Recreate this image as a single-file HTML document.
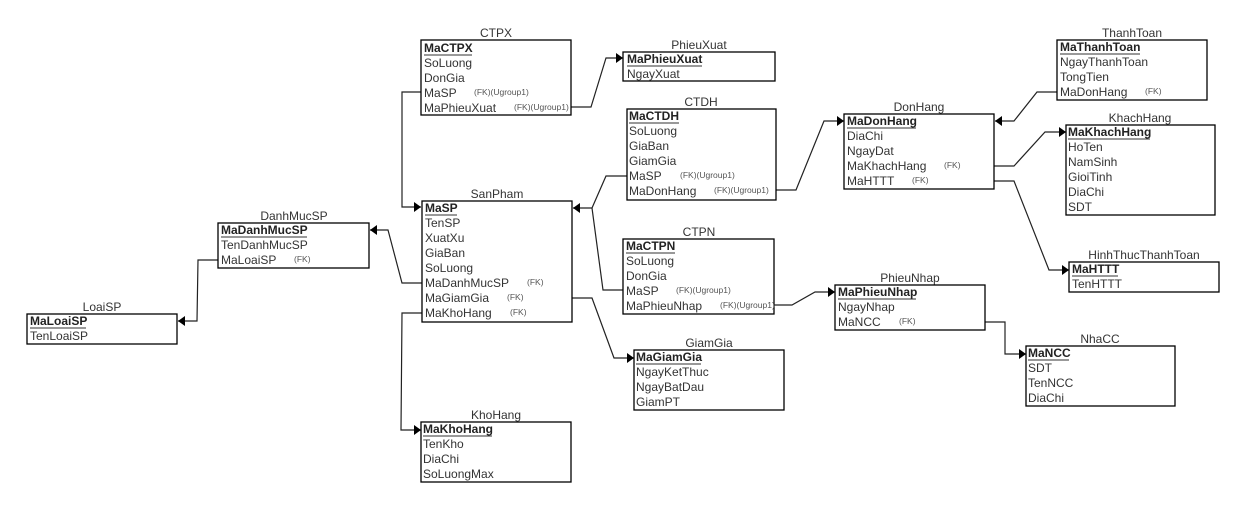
<!DOCTYPE html>
<html><head><meta charset="utf-8"><style>
html,body{margin:0;padding:0;background:#fff;}
svg{display:block;}
text{font-family:"Liberation Sans",Arial,sans-serif;font-size:12px;fill:#333;}
text.t{fill:#333;}
text.pk{font-weight:bold;fill:#222;}
text.fk{font-size:8.5px;fill:#555;}
rect{fill:#fff;stroke:#000;stroke-width:1.3;}
line.u{stroke:#333;stroke-width:1;}
polyline{fill:none;stroke:#222;stroke-width:1.2;}
</style></head><body>
<svg width="1245" height="508" viewBox="0 0 1245 508" xmlns="http://www.w3.org/2000/svg">
<defs>
<marker id="a" markerWidth="8" markerHeight="12" refX="7" refY="6" orient="auto" markerUnits="userSpaceOnUse">
<path d="M0,1 L7,6 L0,11 Z" fill="#000"/>
</marker>
</defs>

<!-- connectors -->
<polyline points="421,92 402,92 402,207 421,207" marker-end="url(#a)"/>
<polyline points="571,107 591,107 606,58 623,58" marker-end="url(#a)"/>
<polyline points="627,176 606,176 592,208 573,208" marker-end="url(#a)"/>
<polyline points="623,290 603,290 592,208"/>
<polyline points="776,190 796,190 824,121 844,121" marker-end="url(#a)"/>
<polyline points="774,305 792,305 815,292 835,292" marker-end="url(#a)"/>
<polyline points="1057,92 1037,92 1014,121 995,121" marker-end="url(#a)"/>
<polyline points="994,166 1014,166 1045,132 1066,132" marker-end="url(#a)"/>
<polyline points="994,181 1014,181 1049,270 1069,270" marker-end="url(#a)"/>
<polyline points="985,322 1005,322 1005,354 1026,354" marker-end="url(#a)"/>
<polyline points="422,283 402,283 388,230 370,230" marker-end="url(#a)"/>
<polyline points="218,260 198,260 197,321 178,321" marker-end="url(#a)"/>
<polyline points="572,298 592,298 614,358 634,358" marker-end="url(#a)"/>
<polyline points="422,313 402,313 401,430 421,430" marker-end="url(#a)"/>

<!-- CTPX -->
<text x="496" y="37" text-anchor="middle">CTPX</text>
<rect x="421" y="40" width="150" height="75"/>
<text class="pk" x="424" y="52">MaCTPX</text><line class="u" x1="424" y1="55" x2="472" y2="55"/>
<text x="424" y="67">SoLuong</text>
<text x="424" y="82">DonGia</text>
<text x="424" y="97">MaSP</text><text class="fk" x="474" y="95">(FK)(Ugroup1)</text>
<text x="424" y="112">MaPhieuXuat</text><text class="fk" x="514" y="110">(FK)(Ugroup1)</text>

<!-- PhieuXuat -->
<text x="699" y="49" text-anchor="middle">PhieuXuat</text>
<rect x="623" y="52" width="152" height="29"/>
<text class="pk" x="627" y="63">MaPhieuXuat</text><line class="u" x1="627" y1="66" x2="702" y2="66"/>
<text x="627" y="78">NgayXuat</text>

<!-- CTDH -->
<text x="701" y="106" text-anchor="middle">CTDH</text>
<rect x="627" y="109" width="149" height="91"/>
<text class="pk" x="629" y="120">MaCTDH</text><line class="u" x1="629" y1="123" x2="679" y2="123"/>
<text x="629" y="135">SoLuong</text>
<text x="629" y="150">GiaBan</text>
<text x="629" y="165">GiamGia</text>
<text x="629" y="180">MaSP</text><text class="fk" x="680" y="178">(FK)(Ugroup1)</text>
<text x="629" y="195">MaDonHang</text><text class="fk" x="714" y="193">(FK)(Ugroup1)</text>

<!-- SanPham -->
<text x="497" y="198" text-anchor="middle">SanPham</text>
<rect x="422" y="201" width="150" height="121"/>
<text class="pk" x="425" y="212">MaSP</text><line class="u" x1="425" y1="215" x2="457" y2="215"/>
<text x="425" y="227">TenSP</text>
<text x="425" y="242">XuatXu</text>
<text x="425" y="257">GiaBan</text>
<text x="425" y="272">SoLuong</text>
<text x="425" y="287">MaDanhMucSP</text><text class="fk" x="527" y="285">(FK)</text>
<text x="425" y="302">MaGiamGia</text><text class="fk" x="507" y="300">(FK)</text>
<text x="425" y="317">MaKhoHang</text><text class="fk" x="510" y="315">(FK)</text>

<!-- CTPN -->
<text x="699" y="236" text-anchor="middle">CTPN</text>
<rect x="623" y="239" width="151" height="75"/>
<text class="pk" x="626" y="250">MaCTPN</text><line class="u" x1="626" y1="253" x2="675" y2="253"/>
<text x="626" y="265">SoLuong</text>
<text x="626" y="280">DonGia</text>
<text x="626" y="295">MaSP</text><text class="fk" x="676" y="293">(FK)(Ugroup1)</text>
<text x="626" y="310">MaPhieuNhap</text><text class="fk" x="720" y="308">(FK)(Ugroup1)</text>

<!-- DonHang -->
<text x="919" y="111" text-anchor="middle">DonHang</text>
<rect x="844" y="114" width="150" height="75"/>
<text class="pk" x="847" y="125">MaDonHang</text><line class="u" x1="847" y1="128" x2="916" y2="128"/>
<text x="847" y="140">DiaChi</text>
<text x="847" y="155">NgayDat</text>
<text x="847" y="170">MaKhachHang</text><text class="fk" x="944" y="168">(FK)</text>
<text x="847" y="185">MaHTTT</text><text class="fk" x="912" y="183">(FK)</text>

<!-- ThanhToan -->
<text x="1132" y="37" text-anchor="middle">ThanhToan</text>
<rect x="1057" y="40" width="150" height="60"/>
<text class="pk" x="1060" y="51">MaThanhToan</text><line class="u" x1="1060" y1="54" x2="1140" y2="54"/>
<text x="1060" y="66">NgayThanhToan</text>
<text x="1060" y="81">TongTien</text>
<text x="1060" y="96">MaDonHang</text><text class="fk" x="1145" y="94">(FK)</text>

<!-- KhachHang -->
<text x="1140" y="122" text-anchor="middle">KhachHang</text>
<rect x="1066" y="125" width="149" height="90"/>
<text class="pk" x="1068" y="136">MaKhachHang</text><line class="u" x1="1068" y1="139" x2="1150" y2="139"/>
<text x="1068" y="151">HoTen</text>
<text x="1068" y="166">NamSinh</text>
<text x="1068" y="181">GioiTinh</text>
<text x="1068" y="196">DiaChi</text>
<text x="1068" y="211">SDT</text>

<!-- HinhThucThanhToan -->
<text x="1144" y="259" text-anchor="middle">HinhThucThanhToan</text>
<rect x="1069" y="262" width="150" height="30"/>
<text class="pk" x="1072" y="273">MaHTTT</text><line class="u" x1="1072" y1="276" x2="1118" y2="276"/>
<text x="1072" y="288">TenHTTT</text>

<!-- PhieuNhap -->
<text x="910" y="282" text-anchor="middle">PhieuNhap</text>
<rect x="835" y="285" width="150" height="45"/>
<text class="pk" x="838" y="296">MaPhieuNhap</text><line class="u" x1="838" y1="299" x2="916" y2="299"/>
<text x="838" y="311">NgayNhap</text>
<text x="838" y="326">MaNCC</text><text class="fk" x="899" y="324">(FK)</text>

<!-- NhaCC -->
<text x="1100" y="343" text-anchor="middle">NhaCC</text>
<rect x="1026" y="346" width="149" height="60"/>
<text class="pk" x="1028" y="357">MaNCC</text><line class="u" x1="1028" y1="360" x2="1069" y2="360"/>
<text x="1028" y="372">SDT</text>
<text x="1028" y="387">TenNCC</text>
<text x="1028" y="402">DiaChi</text>

<!-- DanhMucSP -->
<text x="294" y="220" text-anchor="middle">DanhMucSP</text>
<rect x="218" y="223" width="151" height="45"/>
<text class="pk" x="221" y="234">MaDanhMucSP</text><line class="u" x1="221" y1="237" x2="307" y2="237"/>
<text x="221" y="249">TenDanhMucSP</text>
<text x="221" y="264">MaLoaiSP</text><text class="fk" x="294" y="262">(FK)</text>

<!-- LoaiSP -->
<text x="102" y="311" text-anchor="middle">LoaiSP</text>
<rect x="27" y="314" width="150" height="30"/>
<text class="pk" x="30" y="325">MaLoaiSP</text><line class="u" x1="30" y1="328" x2="86" y2="328"/>
<text x="30" y="340">TenLoaiSP</text>

<!-- GiamGia -->
<text x="709" y="347" text-anchor="middle">GiamGia</text>
<rect x="634" y="350" width="150" height="60"/>
<text class="pk" x="636" y="361">MaGiamGia</text><line class="u" x1="636" y1="364" x2="701" y2="364"/>
<text x="636" y="376">NgayKetThuc</text>
<text x="636" y="391">NgayBatDau</text>
<text x="636" y="406">GiamPT</text>

<!-- KhoHang -->
<text x="496" y="419" text-anchor="middle">KhoHang</text>
<rect x="421" y="422" width="150" height="60"/>
<text class="pk" x="423" y="433">MaKhoHang</text><line class="u" x1="423" y1="436" x2="492" y2="436"/>
<text x="423" y="448">TenKho</text>
<text x="423" y="463">DiaChi</text>
<text x="423" y="478">SoLuongMax</text>
</svg>
</body></html>
